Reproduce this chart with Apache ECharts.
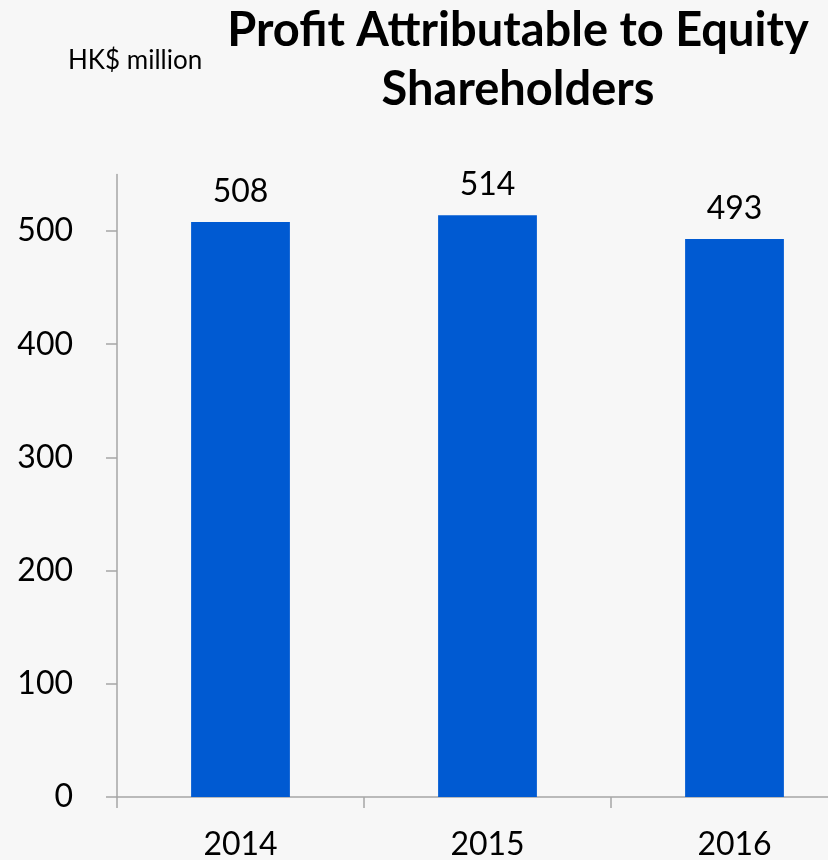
<!DOCTYPE html>
<html>
<head>
<meta charset="utf-8">
<script src="https://cdn.jsdelivr.net/npm/echarts@6/dist/echarts.min.js"></script>
<style>
html,body{margin:0;padding:0;background:#f7f7f7;}
#c{width:828px;height:860px;}
</style>
</head>
<body>
<div id="c"></div>
<script>
const categories = ['2014', '2015', '2016'];
const profit = [508, 514, 493];
const yTicks = [0, 100, 200, 300, 400, 500];
const titleText = 'Profit Attributable to Equity\nShareholders';
const unitText = 'HK$ million';

const chart = echarts.init(document.getElementById('c'));
const font = 'Lato, "Open Sans", sans-serif';
chart.setOption({
  backgroundColor: '#f7f7f7',
  animation: false,
  title: [{
    text: titleText,
    left: 513,
    top: -4,
    textAlign: 'center',
    textStyle: {fontFamily: font, fontWeight: 'bold', fontSize: 47, lineHeight: 59, color: '#000'}
  }, {
    text: unitText,
    left: 63,
    top: 43,
    textStyle: {fontFamily: font, fontWeight: 'normal', fontSize: 26, color: '#000'}
  }],
  grid: {left: 117, right: -30, top: 174.4, bottom: 63, containLabel: false, outerBoundsMode: 'none'},
  xAxis: {
    type: 'category',
    data: categories,
    axisLine: {lineStyle: {color: '#a6a6a6', width: 1.5}},
    axisTick: {show: true, length: 11, lineStyle: {color: '#a6a6a6', width: 1.5}},
    axisLabel: {fontFamily: font, fontSize: 32, color: '#000', margin: 32}
  },
  yAxis: {
    type: 'value',
    min: 0,
    max: 550,
    splitLine: {show: false},
    axisLine: {show: true, lineStyle: {color: '#a6a6a6', width: 1.5}},
    axisTick: {show: true, length: 11, customValues: yTicks, lineStyle: {color: '#a6a6a6', width: 1.5}},
    axisLabel: {fontFamily: font, fontSize: 32, color: '#000', margin: 44, customValues: yTicks}
  },
  series: [{
    type: 'bar',
    data: profit,
    barWidth: '40%',
    itemStyle: {color: '#005ad2'},
    label: {show: true, position: 'top', distance: 14, fontFamily: font, fontSize: 32, color: '#000'}
  }]
});
</script>
</body>
</html>
